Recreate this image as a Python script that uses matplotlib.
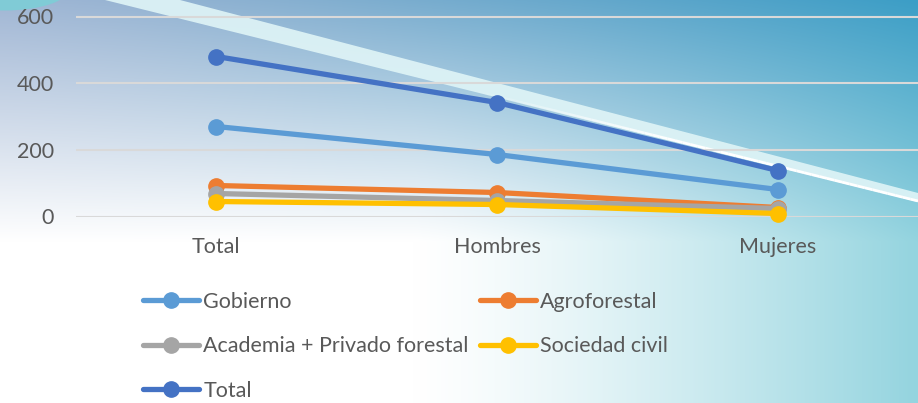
import numpy as np
import matplotlib
matplotlib.use("Agg")
import matplotlib.pyplot as plt
from matplotlib.patches import Polygon, Ellipse

plt.rcParams['font.family'] = ['Lato', 'DejaVu Sans']

categories = ["Total", "Hombres", "Mujeres"]
series_names = ["Gobierno", "Agroforestal", "Academia + Privado forestal",
                "Sociedad civil", "Total"]
gobierno = [270, 186, 81]
agroforestal = [93, 72, 27]
academia = [69, 48, 24]
sociedad = [45, 36, 9]
total = [480, 342, 138]
yticks = [0, 200, 400, 600]

colors = ["#5B9BD5", "#ED7D31", "#A5A5A5", "#FFC000", "#4472C4"]
values = [gobierno, agroforestal, academia, sociedad, total]

W, H = 918, 403
fig = plt.figure(figsize=(W / 100, H / 100), dpi=100)

# background gradient
bg = fig.add_axes([0, 0, 1, 1])
bg.set_xlim(0, W)
bg.set_ylim(H, 0)
bg.axis("off")
xs = np.linspace(0, 1, W)[None, :, None]
ys = np.linspace(0, 1, H)[:, None, None]
top_l = np.array([160, 182, 212]) / 255
top_r = np.array([60, 158, 198]) / 255
bot_r = np.array([148, 212, 223]) / 255
white = np.array([1.0, 1.0, 1.0])
top = top_l + (top_r - top_l) * xs ** 1.2
tb = np.clip((xs - 0.45) / 0.55, 0, 1) ** 1.3
bottom = white + (bot_r - white) * tb
v = np.clip(ys / 0.6, 0, 1)
img = top * (1 - v) + bottom * v
bg.imshow(img, extent=(0, W, H, 0), aspect="auto", zorder=0)
bg.add_patch(Ellipse((5, -12), 130, 45, color="#80cbd6", zorder=1, lw=0))
bg.add_patch(Polygon([(180, 0), (W, 193), (W, 202), (105, 0)], closed=True,
                     facecolor=(0.88, 0.96, 0.97), alpha=0.9, lw=0, zorder=1))
lx = np.linspace(470, W, 60)
ly = 202 * (lx - 105) / (W - 105)
for i in range(len(lx) - 1):
    a = min(1.0, (lx[i] - 470) / 200)
    bg.plot(lx[i:i + 2], ly[i:i + 2] - 1, color="white", lw=2, alpha=a,
            zorder=2, solid_capstyle="butt")

# chart
ax = fig.add_axes([76 / W, (H - 216.5) / H, (W - 76) / W, 216.5 / H])
ax.set_facecolor("none")
x = np.arange(len(categories))
lines = []
for name, vals, c in zip(series_names, values, colors):
    ln, = ax.plot(x, vals, color=c, lw=3.8, marker="o", markersize=11,
                  solid_capstyle="round", clip_on=False, label=name, zorder=3)
    lines.append(ln)

ax.set_xlim(-0.5, 2.5)
ax.set_ylim(0, 600 * 216.5 / 200)
ax.set_yticks(yticks)
ax.set_xticks(x)
ax.set_xticklabels(categories)
ax.grid(axis="y", color="#d9d9d9", lw=1.5, zorder=1)
ax.set_axisbelow(True)
for s in ax.spines.values():
    s.set_visible(False)
ax.tick_params(length=0, colors="#595959", labelsize=15.5)
ax.tick_params(axis="y", pad=16)
ax.tick_params(axis="x", pad=15)

# legend in two columns
col1 = [lines[0], lines[2], lines[4]]
col2 = [lines[1], lines[3]]
kw = dict(frameon=False, fontsize=15.5, handlelength=2.6, handletextpad=0.2,
          labelspacing=1.13, labelcolor="#595959", borderaxespad=0, borderpad=0)
fig.legend(col1, [l.get_label() for l in col1], loc="upper left",
           bbox_to_anchor=(143 / W, 1 - 292 / H), **kw)
fig.legend(col2, [l.get_label() for l in col2], loc="upper left",
           bbox_to_anchor=(480 / W, 1 - 292 / H), **kw)

fig.savefig("out.png", dpi=100)
